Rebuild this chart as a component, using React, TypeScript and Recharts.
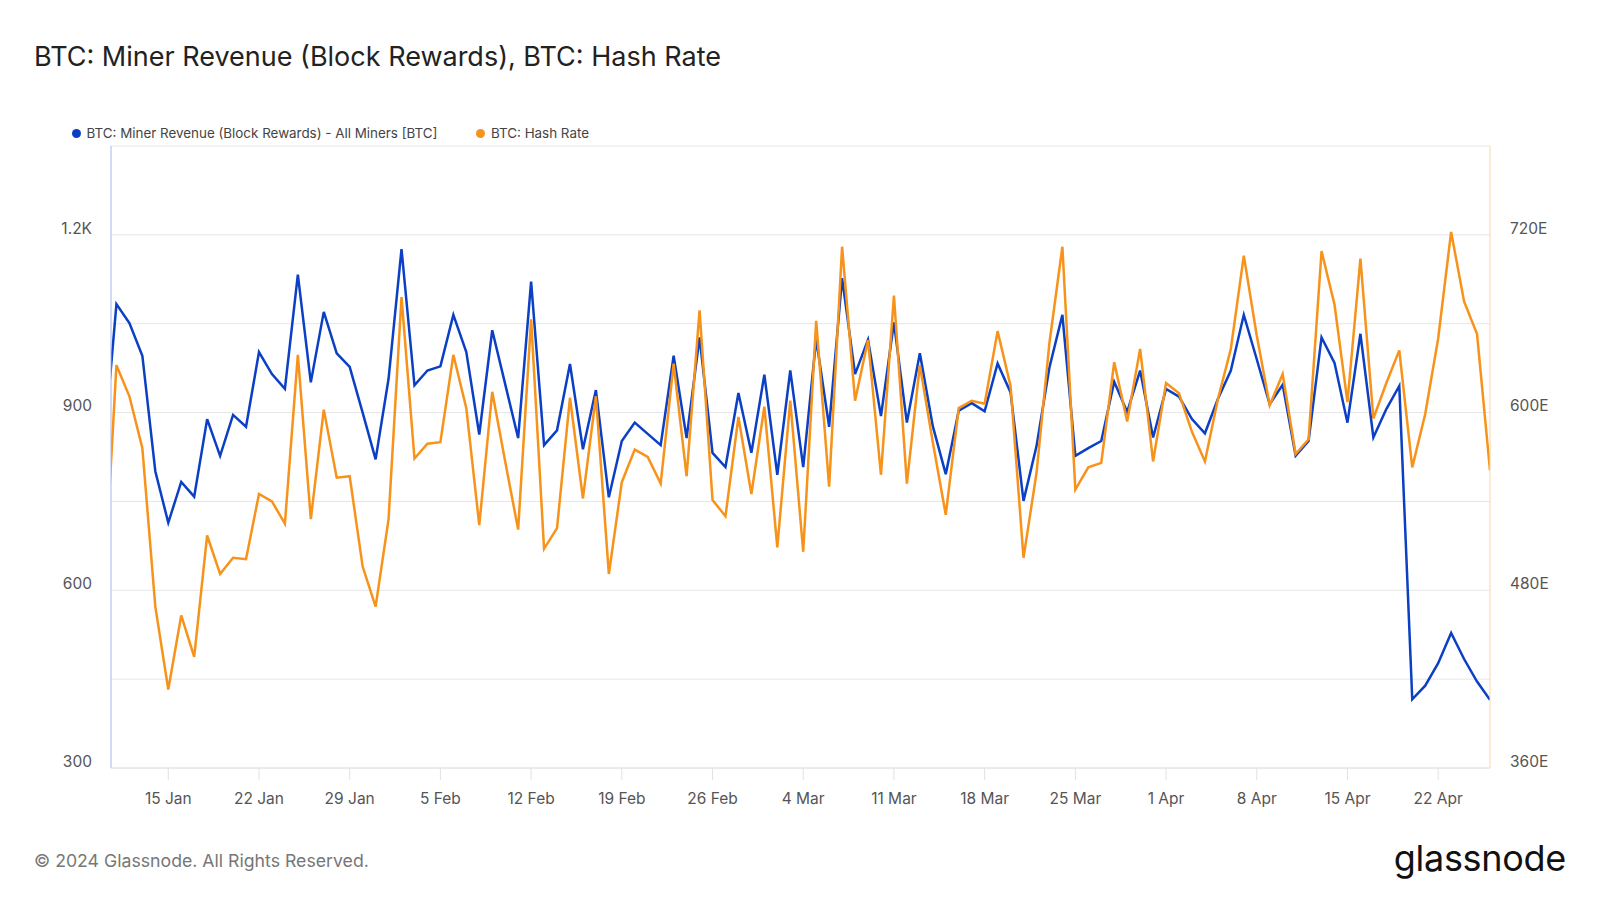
import React from 'react';
import { LineChart, Line, XAxis, YAxis, CartesianGrid } from 'recharts';

// day index 0 = 10 Jan 2024 (only partly visible), 107 = 26 Apr 2024
const minerRevenue = [
  830, 1083, 1051, 996, 801, 714, 783, 758, 889, 827,
  896, 876, 1002, 965, 940, 1133, 951, 1070, 1000, 977,
  900, 821, 957, 1176, 946, 971, 978, 1065, 1002, 863,
  1039, 948, 857, 1121, 845, 870, 982, 838, 938, 757,
  852, 883, 864, 845, 996, 857, 1027, 832, 808, 933,
  832, 964, 795, 971, 808, 1024, 876, 1127, 965, 1023,
  894, 1052, 883, 1000, 877, 796, 903, 916, 902, 983,
  934, 751, 843, 976, 1065, 827, 840, 852, 952, 901,
  971, 858, 940, 927, 889, 865, 923, 971, 1065, 990,
  914, 947, 827, 852, 1027, 984, 883, 1033, 858, 906,
  945, 416, 439, 477, 528, 484, 446, 415,
];

const hashRate = [
  475, 632, 611, 576, 469, 413, 463, 435, 517, 491,
  502, 501, 545, 540, 525, 639, 528, 602, 556, 557,
  496, 469, 528, 678, 569, 579, 580, 639, 603, 524,
  614, 567, 521, 663, 508, 522, 610, 542, 611, 491,
  553, 575, 570, 552, 633, 557, 669, 541, 530, 597,
  545, 604, 509, 608, 506, 662, 550, 712, 608, 649,
  558, 679, 552, 632, 580, 531, 603, 608, 606, 655,
  618, 502, 559, 647, 712, 548, 563, 566, 634, 594,
  643, 567, 620, 613, 587, 567, 609, 643, 706, 652,
  605, 626, 572, 582, 709, 673, 607, 704, 596, 620,
  642, 563, 599, 650, 722, 675, 653, 561,
];

const tickLabels = [
  '15 Jan', '22 Jan', '29 Jan', '5 Feb', '12 Feb', '19 Feb', '26 Feb', '4 Mar',
  '11 Mar', '18 Mar', '25 Mar', '1 Apr', '8 Apr', '15 Apr', '22 Apr',
];
const tickDays = [5, 12, 19, 26, 33, 40, 47, 54, 61, 68, 75, 82, 89, 96, 103];

const leftTicks = [300, 450, 600, 750, 900, 1050, 1200, 1350];
const rightTicks = [360, 420, 480, 540, 600, 660, 720, 780];

const BLUE = '#0b3fc4';
const ORANGE = '#f7931a';
const FONT = 'Inter, "Noto Sans", sans-serif';

const data = minerRevenue.map((v, i) => ({ day: i, revenue: v, hash: hashRate[i] }));

const LeftTick = (props: any) => {
  const { x, y, payload } = props;
  if (payload.value % 300 !== 0) return null;
  const label = payload.value >= 1000 ? `${payload.value / 1000}K` : `${payload.value}`;
  return (
    <text x={x} y={y - 5.5} textAnchor="end" dominantBaseline="middle" fill="#555" fontSize={15.5} fontFamily={FONT}>
      {label}
    </text>
  );
};

const RightTick = (props: any) => {
  const { x, y, payload } = props;
  if (payload.value % 120 !== 0) return null;
  return (
    <text x={x} y={y - 5.5} textAnchor="start" dominantBaseline="middle" fill="#555" fontSize={15.5} fontFamily={FONT}>
      {`${payload.value}E`}
    </text>
  );
};

const BottomTick = (props: any) => {
  const { x, y, payload } = props;
  const idx = tickDays.indexOf(payload.value);
  return (
    <text x={x} y={y + 2} textAnchor="middle" dominantBaseline="middle" fill="#555" fontSize={15.5} fontFamily={FONT}>
      {tickLabels[idx]}
    </text>
  );
};

export default function App() {
  return (
    <div style={{ position: 'absolute', left: 0, top: 0, width: 1600, height: 900, background: '#fff' }}>
      <LineChart
        width={1600}
        height={900}
        data={data}
        margin={{ top: 146, right: 30, left: 51, bottom: 92 }}
      >
        <CartesianGrid yAxisId="left" horizontal={true} vertical={false} stroke="#e6e6e6" />
        <XAxis
          dataKey="day"
          type="number"
          domain={[0.58, 107]}
          allowDataOverflow
          ticks={tickDays}
          interval={0}
          height={40}
          stroke="#e2e2e2"
          tickSize={12}
          tickMargin={18}
          tick={<BottomTick />}
        />
        <YAxis
          yAxisId="left"
          domain={[300, 1350]}
          ticks={leftTicks}
          interval={0}
          width={60}
          stroke="#a7b6f0"
          tickLine={false}
          tickSize={0}
          tickMargin={19}
          tick={<LeftTick />}
        />
        <YAxis
          yAxisId="right"
          orientation="right"
          domain={[360, 780]}
          ticks={rightTicks}
          interval={0}
          width={80}
          stroke="#fcd7a4"
          tickLine={false}
          tickSize={0}
          tickMargin={20}
          tick={<RightTick />}
        />
        <Line yAxisId="left" type="linear" dataKey="revenue" stroke={BLUE} strokeWidth={2.5} dot={false} isAnimationActive={false} />
        <Line yAxisId="right" type="linear" dataKey="hash" stroke={ORANGE} strokeWidth={2.5} dot={false} isAnimationActive={false} />
      </LineChart>
      <svg width={1600} height={900} style={{ position: 'absolute', left: 0, top: 0, pointerEvents: 'none' }}>
        <text x={34} y={59} dominantBaseline="middle" fontSize={27} fill="#222" fontFamily={FONT}>
          BTC: Miner Revenue (Block Rewards), BTC: Hash Rate
        </text>
        <circle cx={76.5} cy={133.5} r={4.5} fill={BLUE} />
        <text x={86.5} y={134} dominantBaseline="middle" fontSize={13.4} fill="#444" fontFamily={FONT}>
          BTC: Miner Revenue (Block Rewards) - All Miners [BTC]
        </text>
        <circle cx={480.5} cy={133.5} r={4.5} fill={ORANGE} />
        <text x={491} y={134} dominantBaseline="middle" fontSize={13.4} fill="#444" fontFamily={FONT}>
          BTC: Hash Rate
        </text>
        <text x={34} y={862} dominantBaseline="middle" fontSize={17.7} fill="#777" fontFamily={FONT}>
          © 2024 Glassnode. All Rights Reserved.
        </text>
        <text x={1566} y={861} textAnchor="end" dominantBaseline="middle" fontSize={36} fontWeight={400} fill="#111" fontFamily={FONT} letterSpacing={-0.3}>
          glassnode
        </text>
      </svg>
    </div>
  );
}
